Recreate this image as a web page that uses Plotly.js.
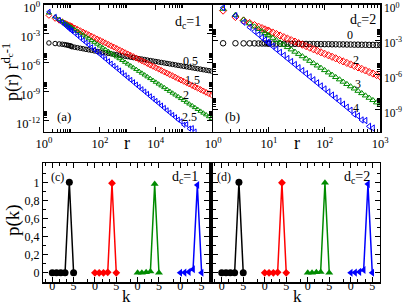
<!DOCTYPE html>
<html><head><meta charset="utf-8">
<script src="https://cdn.plot.ly/plotly-3.0.1.min.js"></script>
<style>html,body{margin:0;padding:0;background:#fff}#plot{width:403px;height:306px}</style>
</head><body><div id="plot"></div>
<script>
// ---------- panel (a): d_c = 1, r values and log10[p(r) r^(dc-1)] ----------
const rA = [1.5,2.5,3.5,4.5,5.5,6.5,7.5,8.5,9.5,
  10,12.6,15.8,20,25.1,31.6,39.8,50.1,63.1,79.4,
  100,126,158,200,251,316,398,501,631,794,
  1e3,1.26e3,1.58e3,2e3,2.51e3,3.16e3,3.98e3,5.01e3,6.31e3,7.94e3,
  1e4,1.26e4,1.58e4,2e4,2.51e4,3.16e4,3.98e4,5.01e4,6.31e4,7.94e4,
  1e5,1.26e5,1.58e5,2e5,2.51e5,3.16e5,3.98e5,5.01e5,6.31e5,7.94e5,1e6];
const logA_05 = [-3.97,-4.03,-4.07,-4.10,-4.14,-4.18,-4.22,-4.26,-4.30,
  -4.36,-4.41,-4.46,-4.52,-4.57,-4.63,-4.68,-4.73,-4.79,-4.84,
  -4.89,-4.94,-4.99,-5.04,-5.09,-5.14,-5.19,-5.24,-5.29,-5.34,
  -5.39,-5.44,-5.49,-5.54,-5.59,-5.64,-5.69,-5.74,-5.79,-5.84,
  -5.89,-5.94,-5.99,-6.04,-6.09,-6.14,-6.19,-6.24,-6.29,-6.34,
  -6.39,-6.44,-6.49,-6.54,-6.59,-6.64,-6.69,-6.74,-6.79,-6.84,-6.89];
const logA_15 = [-1.11,-1.42,-1.62,-1.77,-1.90,-2.00,-2.09,-2.17,-2.24,
  -2.27,-2.41,-2.55,-2.70,-2.84,-2.98,-3.12,-3.26,-3.41,-3.55,
  -3.69,-3.83,-3.97,-4.12,-4.26,-4.40,-4.54,-4.68,-4.83,-4.97,
  -5.11,-5.25,-5.39,-5.54,-5.68,-5.82,-5.96,-6.10,-6.25,-6.39,
  -6.53,-6.67,-6.81,-6.96,-7.10,-7.24,-7.38,-7.52,-7.67,-7.81,
  -7.95,-8.09,-8.23,-8.38,-8.52,-8.66,-8.80,-8.94,-9.09,-9.23,-9.37];
const logA_2 = [-0.85,-1.26,-1.53,-1.73,-1.90,-2.03,-2.16,-2.26,-2.35,
  -2.39,-2.58,-2.77,-2.95,-3.14,-3.33,-3.52,-3.71,-3.89,-4.08,
  -4.27,-4.46,-4.65,-4.83,-5.02,-5.21,-5.40,-5.59,-5.77,-5.96,
  -6.15,-6.34,-6.53,-6.71,-6.90,-7.09,-7.28,-7.47,-7.65,-7.84,
  -8.03,-8.22,-8.41,-8.59,-8.78,-8.97,-9.16,-9.35,-9.53,-9.72,
  -9.91,-10.10,-10.29,-10.47,-10.66,-10.85,-11.04,-11.23,-11.41,-11.60,-11.79];
const logA_25 = [-0.74,-1.27,-1.61,-1.87,-2.09,-2.26,-2.42,-2.55,-2.67,
  -2.72,-2.96,-3.20,-3.45,-3.69,-3.93,-4.17,-4.41,-4.66,-4.90,
  -5.14,-5.38,-5.62,-5.87,-6.11,-6.35,-6.59,-6.83,-7.08,-7.32,
  -7.56,-7.80,-8.04,-8.29,-8.53,-8.77,-9.01,-9.25,-9.50,-9.74,
  -9.98,-10.22,-10.46,-10.71,-10.95,-11.19,-11.43,-11.67,-11.92,-12.10,
  -12.45,-12.40,-12.85,-12.80,-13.15];

// ---------- panel (b): d_c = 2 ----------
const rB = [1.5,2.5,3.5,4.5,5.5,6.5,7.5,8.5,9.5,
  10,11.7,13.6,15.8,18.5,21.5,25.1,29.3,34.1,39.8,46.4,54.1,63.1,73.6,85.8,
  100,117,136,158,185,215,251,293,341,398,464,541,631,736,858,1000];
const logB_0 = [-3.27,-3.27,-3.28,-3.28,-3.28,-3.29,-3.29,-3.29,-3.29,
  -3.30,-3.30,-3.30,-3.31,-3.31,-3.31,-3.32,-3.32,-3.32,-3.33,-3.33,-3.34,-3.34,-3.34,-3.35,
  -3.35,-3.35,-3.36,-3.36,-3.37,-3.37,-3.38,-3.38,-3.39,-3.39,-3.40,-3.40,-3.41,-3.41,-3.42,-3.42];
const logB_2 = [-0.45,-1.00,-1.30,-1.52,-1.70,-1.84,-1.96,-2.07,-2.17,
  -2.21,-2.34,-2.47,-2.60,-2.74,-2.87,-3.00,-3.13,-3.26,-3.39,-3.52,-3.65,-3.79,-3.92,-4.05,
  -4.18,-4.31,-4.44,-4.57,-4.71,-4.84,-4.97,-5.10,-5.23,-5.36,-5.49,-5.62,-5.76,-5.89,-6.02,-6.15];
const logB_3 = [-0.30,-0.82,-1.23,-1.56,-1.83,-2.04,-2.24,-2.40,-2.55,
  -2.61,-2.81,-3.01,-3.21,-3.41,-3.61,-3.81,-4.01,-4.20,-4.40,-4.60,-4.80,-5.00,-5.20,-5.40,
  -5.60,-5.80,-6.00,-6.20,-6.40,-6.60,-6.80,-7.00,-7.19,-7.39,-7.59,-7.79,-7.99,-8.19,-8.39,-8.59];
const logB_4 = [-0.20,-0.90,-1.45,-1.89,-2.24,-2.52,-2.78,-2.99,-3.19,
  -3.27,-3.53,-3.80,-4.06,-4.32,-4.59,-4.85,-5.11,-5.38,-5.64,-5.90,-6.17,-6.43,-6.69,-6.96,
  -7.22,-7.48,-7.75,-8.01,-8.27,-8.54,-8.80,-9.06,-9.40,-9.55,-9.90,-9.95,-10.45,-10.60];

// ---------- panels (c),(d): p(k) ----------
const kVals = [0,1,2,3,4,5];
const pC = [[0,0,0,0,1.0,0],[0,0,0,0.005,0.99,0],[0,0,0.005,0.015,0.98,0],[0,0.002,0.01,0.04,0.97,0]];
const pD = [[0,0,0,0,1.0,0],[0,0,0,0.005,0.995,0],[0,0,0.005,0.01,0.995,0],[0,0.002,0.01,0.03,0.98,0]];

const colors = ['#000000','#ff0000','#008b00','#0000ff'];
const openSym = ['circle-open','diamond-open','triangle-up-open','triangle-left-open'];
const fillSym = ['circle','diamond','triangle-up','triangle-left'];
const fillSize = [7,6,7,7];

const W = 403, H = 306;
const px = v => v / W, py = v => 1 - v / H;
const pow10 = a => a.map(v => Math.pow(10, v));

const traces = [];
[logA_05, logA_15, logA_2, logA_25].forEach((ys, i) => {
  traces.push({x: rA.slice(0, ys.length), y: pow10(ys), xaxis:'x', yaxis:'y', mode:'markers', type:'scatter',
    marker:{symbol:openSym[i], size:4.5, color:colors[i], line:{width:1, color:colors[i]}}});
});
[logB_0, logB_2, logB_3, logB_4].forEach((ys, i) => {
  traces.push({x: rB.slice(0, ys.length), y: pow10(ys), xaxis:'x2', yaxis:'y2', mode:'markers', type:'scatter',
    marker:{symbol:openSym[i], size:5.5, color:colors[i], line:{width:1, color:colors[i]}}});
});
[[pC,'x3','y3'],[pD,'x4','y4']].forEach(([P, xa, ya]) => {
  P.forEach((ps, g) => {
    traces.push({x: kVals.map(k => k + 10 * g), y: ps, xaxis:xa, yaxis:ya, mode:'lines+markers', type:'scatter',
      line:{color:colors[g], width:1.5}, marker:{symbol:fillSym[g], size:fillSize[g], color:colors[g]}});
  });
});

function decMinor(exps) {
  const out = [];
  exps.forEach(e => { for (let m = 2; m <= 9; m++) out.push(m * Math.pow(10, e)); });
  return out;
}
const sup = e => '10<sup>' + e + '</sup>';
const base = {showline:true, linecolor:'#000', linewidth:1.3, mirror:'allticks', ticks:'inside',
  ticklen:5, tickwidth:1, tickcolor:'#000', showgrid:false, zeroline:false, automargin:false,
  ticklabeloverflow:'allow',
  tickfont:{family:'Liberation Serif', size:12.5, color:'#000'}};
const minorLog = v => ({tickvals:v, ticks:'inside', ticklen:3, tickwidth:1, tickcolor:'#000', showgrid:false});

const kMinor = [];
for (let g = 0; g < 4; g++) { [-5/3, 5/3, 10/3].forEach(d => kMinor.push(10*g + d)); }
kMinor.push(36.667);

const yTop = [py(132), py(4.5)];
const yBot = [py(282.3), py(163.3)];
const smallFont = {family:'Liberation Serif', size:12, color:'#000'};
const kMinorObj = {tickvals:kMinor, ticks:'inside', ticklen:3, tickwidth:1, tickcolor:'#000'};
const pMinorObj = {tickvals:[0.1,0.3,0.5,0.7,0.9,1.1], ticks:'inside', ticklen:3, tickwidth:1, tickcolor:'#000'};

const layout = {
  width: W, height: H, margin:{l:0, r:0, t:0, b:0}, showlegend:false,
  paper_bgcolor:'#fff', plot_bgcolor:'#fff', font:{family:'Liberation Serif', color:'#000'},
  xaxis: Object.assign({}, base, {domain:[px(44), px(211.7)], anchor:'y', type:'log', range:[0,6],
    tickmode:'array', tickvals:[1,100,1e4], ticktext:[sup(0),sup(2),sup(4)], minor:minorLog(decMinor([0,2,4]))}),
  yaxis: Object.assign({}, base, {domain:yTop, anchor:'x', type:'log', range:[-13.2,0.02],
    tickmode:'array', tickvals:[1,1e-3,1e-6,1e-9,1e-12], ticktext:[sup(0),sup('-3'),sup('-6'),sup('-9'),sup('-12')],
    ticklabelshift:3, minor:minorLog(decMinor([-3,-6,-9,-12]))}),
  xaxis2: Object.assign({}, base, {domain:[px(213.3), px(380.3)], anchor:'y2', type:'log', range:[0,3],
    tickmode:'array', tickvals:[1,10,100,1000], ticktext:[sup(0),sup(1),sup(2),sup(3)], minor:minorLog(decMinor([0,1,2]))}),
  yaxis2: Object.assign({}, base, {domain:yTop, anchor:'x2', side:'right', type:'log', range:[-10.94,0.08],
    tickmode:'array', tickvals:[1,1e-3,1e-6,1e-9], ticktext:[sup(0),sup('-3'),sup('-6'),sup('-9')],
    tickfont:{family:'Liberation Serif', size:11.5, color:'#000'}, ticklabelshift:3,
    minor:minorLog(decMinor([-3,-6,-9]))}),
  xaxis3: Object.assign({}, base, {domain:[px(43.3), px(209.3)], anchor:'y3', range:[-2.1,36.8],
    tickmode:'array', tickvals:[0,5,10,15,20,25,30,35], ticktext:['0','5','0','5','0','5','0','5'],
    tickfont:smallFont, ticklabelstandoff:-8, minor:kMinorObj}),
  yaxis3: Object.assign({}, base, {domain:yBot, anchor:'x3', range:[-0.105,1.21],
    tickmode:'array', tickvals:[0,0.2,0.4,0.6,0.8,1], ticktext:['0','0,2','0,4','0,6','0,8','1'],
    tickfont:smallFont, minor:pMinorObj}),
  xaxis4: Object.assign({}, base, {domain:[px(212.7), px(380)], anchor:'y4', range:[-2.1,36.8],
    tickmode:'array', tickvals:[0,5,10,15,20,25,30,35], ticktext:['0','5','0','5','0','5','0','5'],
    tickfont:smallFont, ticklabelstandoff:-8, minor:kMinorObj}),
  yaxis4: Object.assign({}, base, {domain:yBot, anchor:'x4', range:[-0.105,1.21], showticklabels:false,
    tickmode:'array', tickvals:[0,0.2,0.4,0.6,0.8,1], minor:pMinorObj}),
  annotations: []
};

function ann(text, x, y, size, extra) {
  layout.annotations.push(Object.assign({text:text, x:px(x), y:py(y), xref:'paper', yref:'paper', showarrow:false,
    xanchor:'center', yanchor:'middle', font:{family:'Liberation Serif', size:size, color:'#000'}}, extra || {}));
}
// panel labels and curve labels
ann('d<sub>c</sub>=1', 188, 23, 14);
ann('0.5', 190, 61, 12); ann('1.5', 192, 80, 12); ann('2', 186, 95, 12); ann('2.5', 189, 117, 12);
ann('(a)', 64, 117, 13);
ann('d<sub>c</sub>=2', 363, 21, 14);
ann('0', 350, 35, 12); ann('2', 356, 60, 12); ann('3', 358, 84, 12); ann('4', 356, 108, 12);
ann('(b)', 232, 117, 13);
ann('(c)', 57, 177, 12); ann('d<sub>c</sub>=1', 185, 177, 14);
ann('(d)', 224, 177, 12); ann('d<sub>c</sub>=2', 357, 177, 14);
// axis titles
ann('p(r) r<sup>d<sub>c</sub>-1</sup>', 11, 72, 18, {textangle:-90});
ann('r', 127, 143, 18); ann('r', 297, 143, 18);
ann('p(k)', 13, 220, 19, {textangle:-90});
ann('k', 127, 296, 17); ann('k', 297, 296, 17);

Plotly.newPlot('plot', traces, layout, {staticPlot:true, displayModeBar:false});
</script></body></html>
